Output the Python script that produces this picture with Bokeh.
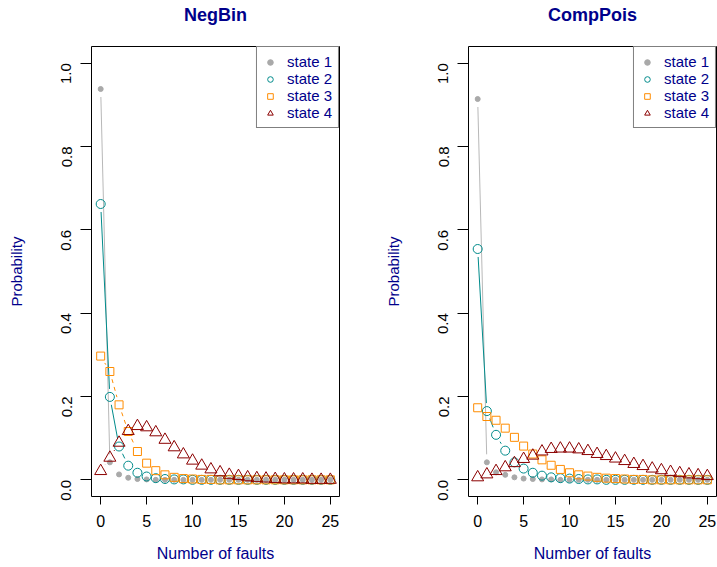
import math
from bokeh.plotting import figure
from bokeh.layouts import row, column
from bokeh.models import FixedTicker, Range1d, Legend, LegendItem
from bokeh.core.properties import value
from bokeh.embed import file_html
from bokeh.resources import INLINE

# ---------------- data ----------------
faults = list(range(26))

negbin_s1 = [0.938, 0.042, 0.013, 0.005, 0.002, 0.001] + [0.0] * 20
negbin_s2 = [0.662, 0.199, 0.080, 0.034, 0.017, 0.008, 0.004, 0.002, 0.001, 0.001] + [0.0] * 16
negbin_s3 = [0.297, 0.260, 0.180, 0.116, 0.068, 0.040, 0.022, 0.012, 0.006, 0.003,
             0.002, 0.001, 0.001] + [0.0] * 13
negbin_s4 = [0.021, 0.053, 0.089, 0.117, 0.129, 0.126, 0.114, 0.096, 0.078, 0.061,
             0.046, 0.034, 0.025, 0.018, 0.012, 0.009, 0.006, 0.004, 0.003, 0.002,
             0.001, 0.001, 0.001, 0.0, 0.0, 0.0]

comppois_s1 = [0.914, 0.042, 0.018, 0.012, 0.006, 0.003, 0.002, 0.001, 0.001] + [0.0] * 17
comppois_s2 = [0.554, 0.165, 0.108, 0.070, 0.042, 0.027, 0.017, 0.010, 0.006, 0.004,
               0.003, 0.002, 0.001, 0.001] + [0.0] * 12
comppois_s3 = [0.173, 0.152, 0.143, 0.124, 0.102, 0.081, 0.062, 0.048, 0.035, 0.025,
               0.017, 0.012, 0.009, 0.006, 0.004, 0.003, 0.002, 0.001, 0.001] + [0.0] * 7
comppois_s4 = [0.006, 0.013, 0.021, 0.030, 0.040, 0.050, 0.058, 0.068, 0.074, 0.075,
               0.075, 0.073, 0.069, 0.062, 0.057, 0.051, 0.045, 0.038, 0.033, 0.027,
               0.023, 0.019, 0.016, 0.013, 0.011, 0.009]

state_labels = ["state 1", "state 2", "state 3", "state 4"]
x_ticks = [0, 5, 10, 15, 20, 25]
y_ticks = [0.0, 0.2, 0.4, 0.6, 0.8, 1.0]
y_tick_labels = ["0.0", "0.2", "0.4", "0.6", "0.8", "1.0"]

# ---------------- style ----------------
FONT = "Liberation Sans"
BLUE = "#00008B"
colors = ["#A9A9A9", "#008B8B", "#FF8C00", "#8B0000"]
line_colors = ["#B8B8B8", "#008B8B", "#FF8C00", "#8B0000"]
dashes = ["solid", "solid", "4 4", "1 3"]
markers = ["circle", "circle", "square", "triangle"]
msizes = [5, 9, 8, 12]
filled = [True, False, False, False]

XR = (-1, 26)
YR = (-0.04, 1.04)
FW, FH = 248, 450
TOP = 46        # height of the title strip above each frame
BOTTOM = 71
SX = FW / (XR[1] - XR[0])
SY = FH / (YR[1] - YR[0])
GAP = 8.0


def gapped(xs, ys):
    x0s, y0s, x1s, y1s = [], [], [], []
    for i in range(len(xs) - 1):
        dx = (xs[i + 1] - xs[i]) * SX
        dy = (ys[i + 1] - ys[i]) * SY
        L = math.hypot(dx, dy)
        if L > 2 * GAP:
            f = GAP / L
            x0s.append(xs[i] + (xs[i + 1] - xs[i]) * f)
            y0s.append(ys[i] + (ys[i + 1] - ys[i]) * f)
            x1s.append(xs[i + 1] - (xs[i + 1] - xs[i]) * f)
            y1s.append(ys[i + 1] - (ys[i + 1] - ys[i]) * f)
    return x0s, y0s, x1s, y1s


def title_strip(title, border_left, border_right):
    w = border_left + FW + border_right
    t = figure(width=w, height=TOP, output_backend="svg", toolbar_location=None,
               x_range=Range1d(*XR), y_range=Range1d(0, TOP),
               min_border_left=border_left, min_border_right=border_right,
               min_border_top=0, min_border_bottom=0)
    t.axis.visible = False
    t.grid.visible = False
    t.outline_line_color = None
    t.background_fill_color = "white"
    t.border_fill_color = "white"
    t.text(x=[(XR[0] + XR[1]) / 2], y=[TOP - 14], text=[title],
           text_align="center", text_baseline="middle",
           text_font=value(FONT), text_font_size="18px",
           text_font_style="bold", text_color=BLUE)
    return t


def make_plot(series, border_left, border_right):
    p = figure(width=border_left + FW + border_right, height=FH + BOTTOM,
               output_backend="svg", toolbar_location=None,
               x_range=Range1d(*XR), y_range=Range1d(*YR),
               min_border_left=border_left, min_border_right=border_right,
               min_border_top=0, min_border_bottom=BOTTOM)

    p.xgrid.visible = False
    p.ygrid.visible = False
    p.outline_line_color = "black"
    p.outline_line_width = 1
    p.background_fill_color = "white"
    p.border_fill_color = "white"

    xa = p.xaxis[0]
    xa.ticker = FixedTicker(ticks=x_ticks)
    xa.axis_line_color = None
    xa.major_tick_out = 8
    xa.major_tick_in = 0
    xa.minor_tick_line_color = None
    xa.major_tick_line_color = "black"
    xa.major_label_standoff = 10
    xa.major_label_text_font = FONT
    xa.major_label_text_font_size = "16px"
    xa.major_label_text_color = "black"
    xa.axis_label = "Number of faults"
    xa.axis_label_text_font = FONT
    xa.axis_label_text_font_size = "16px"
    xa.axis_label_text_font_style = "normal"
    xa.axis_label_text_color = BLUE
    xa.axis_label_standoff = 15

    ya = p.yaxis[0]
    ya.ticker = FixedTicker(ticks=y_ticks)
    ya.major_label_overrides = {t: l for t, l in zip(y_ticks, y_tick_labels)}
    ya.axis_line_color = None
    ya.major_tick_out = 11
    ya.major_tick_in = 0
    ya.minor_tick_line_color = None
    ya.major_label_orientation = math.pi / 2
    ya.major_label_standoff = 14
    ya.major_label_text_font = FONT
    ya.major_label_text_font_size = "15px"
    ya.major_label_text_color = "black"
    ya.axis_label = "Probability"
    ya.axis_label_text_font = FONT
    ya.axis_label_text_font_size = "15px"
    ya.axis_label_text_font_style = "normal"
    ya.axis_label_text_color = BLUE
    ya.axis_label_standoff = 29

    items = []
    for k, ys in enumerate(series):
        x0, y0, x1, y1 = gapped(faults, ys)
        p.segment(x0=x0, y0=y0, x1=x1, y1=y1, line_color=line_colors[k],
                  line_width=1, line_dash=dashes[k])
        if filled[k]:
            r = p.scatter(faults, ys, marker=markers[k], size=msizes[k],
                          fill_color=colors[k], line_color=colors[k])
        else:
            r = p.scatter(faults, ys, marker=markers[k], size=msizes[k],
                          fill_color=None, line_color=colors[k], line_width=1)
        items.append(LegendItem(label=state_labels[k], renderers=[r]))

    leg = Legend(items=items, location="top_right")
    leg.margin = 0
    leg.padding = 6
    leg.spacing = 0
    leg.label_height = 14
    leg.glyph_height = 14
    leg.glyph_width = 14
    leg.label_standoff = 10
    leg.label_text_font = FONT
    leg.label_text_font_size = "15px"
    leg.label_text_color = BLUE
    leg.border_line_color = "black"
    leg.border_line_width = 1
    leg.background_fill_color = "white"
    leg.background_fill_alpha = 1.0
    p.add_layout(leg, "center")
    return p


left = column(title_strip("NegBin", 91, 39),
              make_plot([negbin_s1, negbin_s2, negbin_s3, negbin_s4], 91, 39),
              spacing=0)
right = column(title_strip("CompPois", 90, 1),
               make_plot([comppois_s1, comppois_s2, comppois_s3, comppois_s4], 90, 1),
               spacing=0)

layout = row(left, right, spacing=0)
open("out.html", "w").write(file_html(layout, INLINE))
